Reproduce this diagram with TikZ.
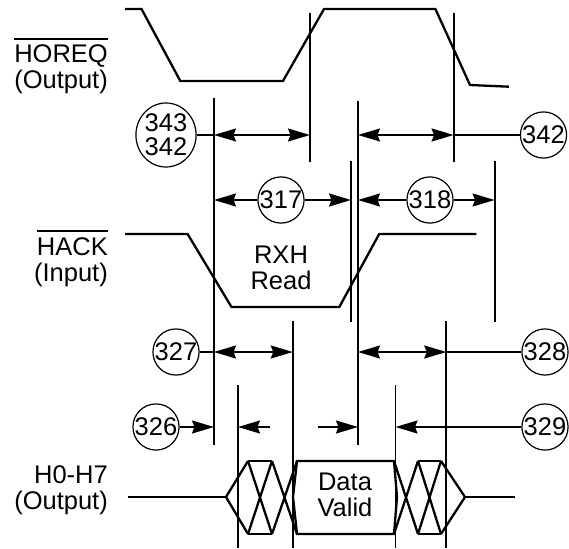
\documentclass[tikz,border=0pt]{standalone}
\usepackage{fontspec}
\setmainfont{Liberation Sans}
\usetikzlibrary{arrows.meta,shapes.geometric}
\begin{document}
\begin{tikzpicture}[x=1pt,y=-1pt,
  font=\fontsize{25.5}{26}\selectfont,
  wave/.style={line width=2.3pt, line join=miter},
  vline/.style={line width=1.8pt},
  dimline/.style={line width=1.8pt},
  tip/.style={-{Stealth[length=22pt,width=13pt,inset=2.5pt]}},
  tips/.style={{Stealth[length=22pt,width=13pt,inset=2.5pt]}-{Stealth[length=22pt,width=13pt,inset=2.5pt]}},
  num/.style={circle, draw, line width=1.2pt, minimum size=46pt, inner sep=0pt},
  lbl/.style={anchor=base east, inner sep=0pt},
  ovl/.style={line width=1.4pt}
]
\useasboundingbox (0,0) rectangle (569,548);

% labels
\node[lbl] (horeq) at (108,63) {HOREQ};
\node[lbl] (horeqo) at (108,89) {(Output)};
\node[lbl] (hack) at (108,255) {HACK};
\node[lbl] (hacki) at (108,281) {(Input)};
\node[lbl] (hbus) at (108,483) {H0-H7};
\node[lbl] (hbuso) at (108,509) {(Output)};
\draw[ovl] ([yshift=6pt]horeq.north west) -- ([yshift=6pt]horeq.north east);
\draw[ovl] ([yshift=6pt]hack.north west) -- ([yshift=6pt]hack.north east);

% waveforms
\draw[wave] (125,9) -- (141.5,9) -- (180.3,81) -- (283,81) -- (324,9) -- (435.4,9) -- (470,85) -- (509,86.7);
\draw[wave] (125,234) -- (187.6,234) -- (231.5,307) -- (339.3,307) -- (379.2,234) -- (476.4,234);

% vertical reference lines
\coordinate (A1) at (310,12.7);   \coordinate (A2) at (310,162.3);
\coordinate (B1) at (453.6,12.7); \coordinate (B2) at (453.6,162.3);
\coordinate (C1) at (214,98.3);   \coordinate (C2) at (214,445);
\coordinate (D1) at (358,101);    \coordinate (D2) at (358,445);
\coordinate (E1) at (351,161);    \coordinate (E2) at (351,322.3);
\coordinate (F1) at (494.6,161);  \coordinate (F2) at (494.6,322.3);
\coordinate (G1) at (292.8,321);  \coordinate (G2) at (292.8,548);
\coordinate (H1) at (446.3,321);  \coordinate (H2) at (446.3,548);
\coordinate (I1) at (238,385);    \coordinate (I2) at (238,548);
\coordinate (J1) at (395.5,385);  \coordinate (J2) at (395.5,548);
\foreach \v in {A,B,C,D,E,F,G,H,I,J} \draw[vline] (\v1) -- (\v2);

% row 1
\node[ellipse, draw, line width=1.2pt, minimum width=50pt, minimum height=64pt, inner sep=0pt, align=center] (e343) at (166,135) {343\\[-2pt]342};
\node[num] (c342) at (543.5,135) {342};
\draw[dimline] (e343.east) -- (214,135);
\draw[dimline,tips] (214,135) -- (310,135);
\draw[dimline,tips] (358,135) -- (453.6,135);
\draw[dimline] (453.6,135) -- (c342.west);

% row 2
\node[num] (c317) at (281,200) {317};
\node[num] (c318) at (430,200) {318};
\draw[dimline,tip] (c317.west) -- (214,200);
\draw[dimline,tip] (c317.east) -- (351,200);
\draw[dimline,tip] (c318.west) -- (358,200);
\draw[dimline,tip] (c318.east) -- (494.6,200);

\node[align=center, inner sep=0pt] (rxh) at (281,268) {RXH\\Read};

% row 3
\node[num] (c327) at (176,352) {327};
\node[num] (c328) at (545,352) {328};
\draw[dimline] (c327.east) -- (214,352);
\draw[dimline,tips] (214,352) -- (292.8,352);
\draw[dimline,tips] (358,352) -- (446.3,352);
\draw[dimline] (446.3,352) -- (c328.west);

% row 4
\node[num] (c326) at (156,427) {326};
\node[num] (c329) at (545,427) {329};
\draw[dimline,tip] (c326.east) -- (214,427);
\draw[dimline,tip] (270,427) -- (238,427);
\draw[dimline,tip] (318,427) -- (358,427);
\draw[dimline,tip] (c329.west) -- (395.5,427);

% data bus
\draw[wave] (128,497) -- (226,497);
\draw[wave] (248,461) -- (226,497) -- (248,534);
\draw[wave] (248,461) -- (272,461) (248,534) -- (272,534);
\draw[wave] (248,461) -- (272,534) (248,534) -- (272,461);
\draw[wave] (272,461) -- (297,534) (272,534) -- (297,461);
\draw[wave] (297,461) -- (293,497) -- (297,534) -- (394,534) -- (397,497) -- (394,461) -- cycle;
\draw[wave] (394,461) -- (418,534) (394,534) -- (418,461);
\draw[wave] (418,461) -- (441,461) (418,534) -- (441,534);
\draw[wave] (418,461) -- (441,534) (418,534) -- (441,461);
\draw[wave] (441,461) -- (465,497) -- (441,534);
\draw[wave] (465,497) -- (514.5,497);
\node[align=center, inner sep=0pt] (dv) at (345,495) {Data\\Valid};
\end{tikzpicture}
\end{document}
